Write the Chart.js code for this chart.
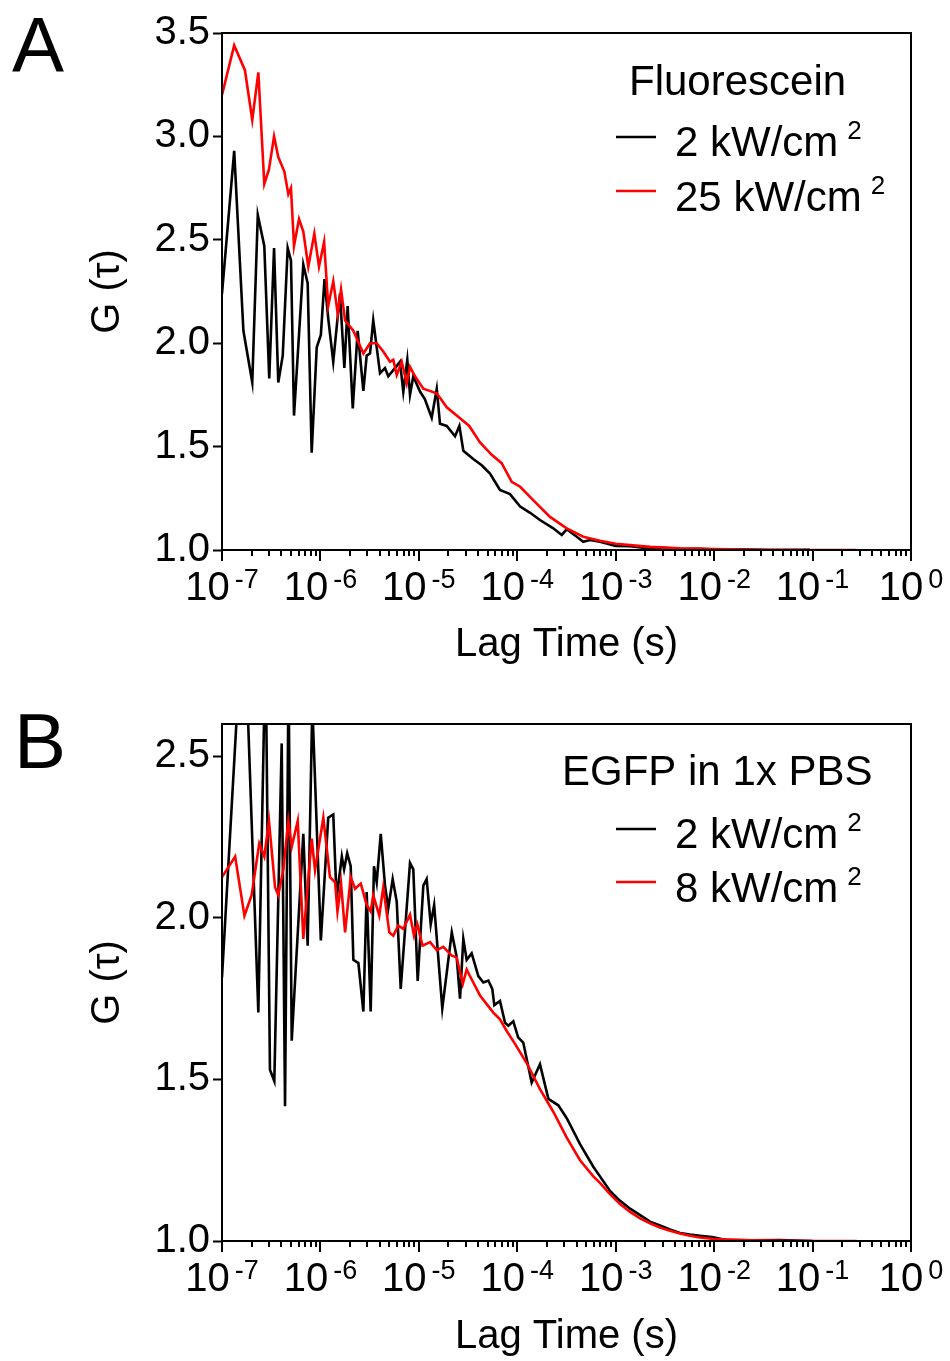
<!DOCTYPE html>
<html>
<head>
<meta charset="utf-8">
<script src="https://cdn.jsdelivr.net/npm/chart.js@4.4.1/dist/chart.umd.min.js"></script>
<style>
  html, body { margin: 0; padding: 0; background: #fff; }
  #wrap { position: relative; width: 950px; height: 1361px; overflow: hidden; }
  canvas { position: absolute; left: 0; }
  #cA { top: 0; }
  #cB { top: 680px; }
</style>
</head>
<body>
<div id="wrap">
  <canvas id="cA" width="950" height="680"></canvas>
  <canvas id="cB" width="950" height="681"></canvas>
</div>
<script>
// ---------------- DATA ----------------
// Panel A: Fluorescein, lag time (s) and G(tau)
const fluorLagLow = [1.0e-7, 1.33e-7, 1.65e-7, 2.03e-7, 2.31e-7, 2.69e-7, 3.02e-7, 3.38e-7, 3.73e-7, 4.14e-7,
  4.65e-7, 5.02e-7, 5.39e-7, 6.70e-7, 7.42e-7, 8.15e-7, 9.17e-7, 1.01e-6, 1.10e-6, 1.20e-6,
  1.35e-6, 1.58e-6, 1.75e-6, 1.89e-6, 2.13e-6, 2.39e-6, 2.73e-6, 2.95e-6, 3.19e-6, 3.44e-6,
  4.03e-6, 4.53e-6, 4.89e-6, 5.50e-6, 6.43e-6, 6.95e-6, 7.63e-6, 8.13e-6, 8.78e-6, 1.03e-5,
  1.15e-5, 1.35e-5, 1.52e-5, 1.64e-5, 1.92e-5, 2.33e-5, 2.58e-5, 2.83e-5, 3.57e-5, 4.35e-5,
  5.28e-5, 6.67e-5, 8.43e-5, 1.07e-4, 1.35e-4, 1.70e-4, 2.32e-4, 2.83e-4, 3.18e-4, 4.02e-4,
  4.68e-4, 5.48e-4, 6.92e-4, 1.0e-3, 1.40e-3, 1.99e-3, 2.82e-3, 4.50e-3, 7.18e-3, 1.0e-2,
  1.83e-2, 3.69e-2, 9.4e-2];
const fluorGLow = [2.24, 2.93, 2.06, 1.81, 2.62, 2.47, 1.83, 2.46, 1.81, 1.94,
  2.46, 2.40, 1.65, 2.38, 2.29, 1.47, 1.98, 2.04, 2.31, 2.12,
  1.91, 2.24, 1.88, 2.18, 1.685, 2.06, 1.77, 1.94, 1.95, 2.11,
  1.855, 1.88, 1.84, 1.87, 1.91, 1.765, 1.92, 1.75, 1.84, 1.765,
  1.73, 1.64, 1.78, 1.61, 1.60, 1.55, 1.60, 1.48, 1.44, 1.41,
  1.37, 1.29, 1.27, 1.21, 1.18, 1.145, 1.105, 1.073, 1.10, 1.064,
  1.04, 1.048, 1.04, 1.02, 1.018, 1.01, 1.012, 1.005, 1.006, 1.002,
  1.003, 1.0, 1.001];

const fluorLagHigh = [1.0e-7, 1.33e-7, 1.71e-7, 2.03e-7, 2.34e-7, 2.69e-7, 3.00e-7, 3.38e-7, 3.73e-7, 4.30e-7,
  4.72e-7, 5.02e-7, 5.39e-7, 6.06e-7, 6.70e-7, 7.53e-7, 8.67e-7, 9.67e-7, 1.09e-6, 1.20e-6,
  1.35e-6, 1.50e-6, 1.62e-6, 1.78e-6, 2.16e-6, 2.73e-6, 3.19e-6, 3.73e-6, 4.35e-6, 5.09e-6,
  5.50e-6, 5.96e-6, 6.70e-6, 7.53e-6, 8.13e-6, 9.14e-6, 1.11e-5, 1.52e-5, 1.92e-5, 2.62e-5,
  3.25e-5, 4.18e-5, 5.50e-5, 6.94e-5, 8.78e-5, 1.07e-4, 1.46e-4, 2.15e-4, 3.18e-4, 4.68e-4,
  6.92e-4, 1.0e-3, 2.23e-3, 4.50e-3, 1.0e-2, 2.92e-2, 9.4e-2, 0.28];
const fluorGHigh = [3.20, 3.44, 3.32, 3.08, 3.31, 2.77, 2.84, 3.00, 2.90, 2.83,
  2.72, 2.75, 2.47, 2.60, 2.54, 2.37, 2.53, 2.37, 2.49, 2.18,
  2.30, 2.14, 2.26, 2.11, 2.06, 1.95, 2.00, 2.00, 1.96, 1.91,
  1.92, 1.846, 1.91, 1.806, 1.886, 1.84, 1.78, 1.758, 1.69, 1.637,
  1.60, 1.52, 1.46, 1.42, 1.33, 1.306, 1.24, 1.16, 1.105, 1.064,
  1.045, 1.03, 1.015, 1.008, 1.004, 1.001, 1.0, 1.0];

// Panel B: EGFP in 1x PBS
const egfpLagLow = [1.0e-7, 1.66e-7, 2.34e-7, 2.77e-7, 3.07e-7, 3.40e-7, 4.04e-7, 4.37e-7, 4.74e-7, 5.11e-7,
  6.70e-7, 7.42e-7, 8.27e-7, 1.01e-6, 1.20e-6, 1.35e-6, 1.46e-6, 1.65e-6, 1.74e-6, 1.87e-6,
  2.03e-6, 2.16e-6, 2.43e-6, 2.73e-6, 2.95e-6, 3.24e-6, 3.50e-6, 3.73e-6, 4.10e-6, 4.53e-6,
  4.89e-6, 5.42e-6, 5.96e-6, 6.54e-6, 8.13e-6, 8.78e-6, 9.73e-6, 1.11e-5, 1.20e-5, 1.32e-5,
  1.43e-5, 1.73e-5, 2.16e-5, 2.42e-5, 2.62e-5, 2.83e-5, 3.06e-5, 3.44e-5, 4.02e-5, 4.52e-5,
  5.08e-5, 5.57e-5, 5.84e-5, 6.67e-5, 7.50e-5, 8.11e-5, 9.11e-5, 1.02e-4, 1.15e-4, 1.40e-4,
  1.70e-4, 2.07e-4, 2.61e-4, 3.18e-4, 4.34e-4, 5.92e-4, 6.92e-4, 8.75e-4, 1.10e-3, 1.40e-3,
  1.77e-3, 2.23e-3, 2.82e-3, 3.56e-3, 4.50e-3, 5.68e-3, 7.18e-3, 9.51e-3, 1.29e-2, 2.31e-2,
  4.67e-2, 0.1];
const egfpGLow = [1.816, 3.0, 1.707, 2.85, 1.53, 1.495, 2.54, 1.417, 2.75, 1.62,
  2.26, 1.914, 2.66, 1.93, 2.31, 2.32, 2.06, 2.19, 2.15, 2.20,
  2.16, 1.87, 1.86, 1.71, 2.08, 1.71, 2.16, 2.11, 2.26, 2.10,
  2.03, 2.12, 2.05, 1.78, 2.17, 2.15, 1.805, 2.10, 2.12, 1.98,
  2.04, 1.72, 1.955, 1.88, 1.75, 1.935, 1.87, 1.89, 1.82, 1.80,
  1.806, 1.78, 1.73, 1.743, 1.676, 1.666, 1.68, 1.63, 1.614, 1.49,
  1.547, 1.44, 1.42, 1.38, 1.30, 1.23, 1.20, 1.155, 1.125, 1.10,
  1.08, 1.06, 1.048, 1.036, 1.025, 1.02, 1.016, 1.012, 1.004, 1.002,
  1.003, 1.0];

const egfpLagHigh = [1.0e-7, 1.36e-7, 1.69e-7, 2.00e-7, 2.39e-7, 2.69e-7, 3.00e-7, 3.46e-7, 3.73e-7, 4.20e-7,
  4.72e-7, 5.11e-7, 5.88e-7, 6.70e-7, 8.15e-7, 8.81e-7, 1.07e-6, 1.25e-6, 1.41e-6, 1.49e-6,
  1.62e-6, 1.78e-6, 2.03e-6, 2.25e-6, 2.57e-6, 2.95e-6, 3.24e-6, 3.44e-6, 3.96e-6, 4.35e-6,
  5.01e-6, 5.50e-6, 6.18e-6, 6.95e-6, 8.13e-6, 8.93e-6, 9.64e-6, 1.09e-5, 1.30e-5, 1.52e-5,
  1.77e-5, 2.16e-5, 2.42e-5, 2.79e-5, 3.06e-5, 3.57e-5, 4.18e-5, 4.89e-5, 5.71e-5, 6.67e-5,
  7.81e-5, 9.48e-5, 1.25e-4, 1.70e-4, 2.32e-4, 3.18e-4, 4.34e-4, 5.92e-4, 6.92e-4, 8.75e-4,
  1.10e-3, 1.40e-3, 1.77e-3, 2.23e-3, 2.82e-3, 3.56e-3, 4.50e-3, 5.68e-3, 7.18e-3, 1.0e-2,
  1.83e-2, 4.67e-2, 0.119, 0.28];
const egfpGHigh = [2.126, 2.19, 2.007, 2.07, 2.23, 2.19, 2.30, 2.095, 2.07, 2.15,
  2.30, 2.22, 2.30, 1.935, 2.245, 2.147, 2.31, 2.126, 2.11, 2.02,
  2.106, 1.955, 2.126, 2.09, 2.106, 2.04, 2.02, 2.07, 2.007, 2.095,
  1.955, 1.945, 1.976, 1.966, 2.01, 1.945, 1.98, 1.914, 1.925, 1.90,
  1.91, 1.883, 1.878, 1.795, 1.84, 1.80, 1.76, 1.733, 1.707, 1.686,
  1.65, 1.61, 1.55, 1.47, 1.40, 1.32, 1.25, 1.20, 1.18, 1.145,
  1.115, 1.09, 1.07, 1.055, 1.042, 1.032, 1.023, 1.016, 1.011, 1.006,
  1.003, 1.001, 1.0, 1.0];

// Labels / ticks
const xTickExponents = [-7, -6, -5, -4, -3, -2, -1, 0];
const minorMultipliers = [2, 3, 4, 5, 6, 7, 8, 9];
const fluorLabels = ['2 kW/cm', '25 kW/cm'];
const egfpLabels = ['2 kW/cm', '8 kW/cm'];
const unitExponent = '2';
const fluorTitle = 'Fluorescein';
const egfpTitle = 'EGFP in 1x PBS';
const xTitle = 'Lag Time (s)';
const yTitle = 'G (\u03C4)';

// ---------------- RENDER ----------------
const FONT = '"Liberation Sans", Arial, Helvetica, sans-serif';
const BLACK = '#000000';
const RED = '#ff0000';
const LINE_W = 2.6;

function pts(xs, ys) { return xs.map((x, i) => ({ x: x, y: ys[i] })); }

const decorPlugin = {
  id: 'decor',
  afterDraw(chart, args, o) {
    const { ctx, chartArea: a } = chart;
    const xs = chart.scales.x;
    ctx.save();
    // frame
    ctx.strokeStyle = '#000'; ctx.lineWidth = 2;
    ctx.strokeRect(a.left, a.top, a.right - a.left, a.bottom - a.top);
    // log ticks on x
    ctx.beginPath();
    const last = xTickExponents[xTickExponents.length - 1];
    xTickExponents.forEach(e => {
      const base = Math.pow(10, e);
      const p = Math.round(xs.getPixelForValue(base));
      ctx.moveTo(p, a.bottom); ctx.lineTo(p, a.bottom + 11);
      if (e < last) minorMultipliers.forEach(k => {
        const q = Math.round(xs.getPixelForValue(k * base));
        ctx.moveTo(q, a.bottom); ctx.lineTo(q, a.bottom + 6);
      });
    });
    ctx.stroke();
    // tick labels 10^n
    ctx.fillStyle = '#000'; ctx.textAlign = 'left'; ctx.textBaseline = 'alphabetic';
    xTickExponents.forEach(e => {
      const p = xs.getPixelForValue(Math.pow(10, e));
      ctx.font = '40px ' + FONT; const w1 = ctx.measureText('10').width;
      const sup = String(e);
      ctx.font = '27px ' + FONT; const w2 = ctx.measureText(sup).width;
      const gap = 5;
      const start = p - (w1 + gap + w2) / 2;
      ctx.font = '40px ' + FONT; ctx.fillText('10', start, a.bottom + 50);
      ctx.font = '27px ' + FONT; ctx.fillText(sup, start + w1 + gap, a.bottom + 38);
    });
    // panel letter
    ctx.font = '78px ' + FONT;
    ctx.fillText(o.letter, o.letterX, o.letterY);
    // legend
    ctx.font = '42px ' + FONT;
    ctx.fillText(o.title, o.titleX, o.titleY);
    o.entries.forEach(en => {
      ctx.strokeStyle = en.color; ctx.lineWidth = 2.4;
      ctx.beginPath(); ctx.moveTo(o.lineX1, en.lineY); ctx.lineTo(o.lineX2, en.lineY); ctx.stroke();
      ctx.font = '42px ' + FONT;
      ctx.fillText(en.label, o.textX, en.y);
      const w = ctx.measureText(en.label).width;
      ctx.font = '26px ' + FONT;
      ctx.fillText(unitExponent, o.textX + w + 9, en.y - 17);
    });
    ctx.restore();
  }
};

function makeChart(id, cfg) {
  const yTicks = {
    stepSize: 0.5, includeBounds: false, color: '#000', padding: 3,
    font: { family: FONT, size: 40 },
    callback: v => Number(v).toFixed(1)
  };
  return new Chart(document.getElementById(id), {
    type: 'scatter',
    data: {
      datasets: [
        { label: cfg.labels[1] + '\u00B2', data: pts(cfg.lagHigh, cfg.gHigh), showLine: true, borderColor: RED,
          borderWidth: LINE_W, pointRadius: 0, tension: 0, order: 0, clip: 0 },
        { label: cfg.labels[0] + '\u00B2', data: pts(cfg.lagLow, cfg.gLow), showLine: true, borderColor: BLACK,
          borderWidth: LINE_W, pointRadius: 0, tension: 0, order: 1, clip: 0 }
      ]
    },
    options: {
      responsive: false, animation: false, devicePixelRatio: 1,
      layout: { padding: { left: 0, right: 39, top: cfg.padTop, bottom: 0 } },
      plugins: {
        legend: { display: false }, tooltip: { enabled: false },
        decor: cfg.decor
      },
      scales: {
        x: {
          type: 'logarithmic', min: 1e-7, max: 1,
          ticks: { display: false },
          grid: { display: false },
          border: { display: false },
          title: { display: true, text: xTitle, color: '#000', font: { family: FONT, size: 40 },
                   padding: { top: 0, bottom: cfg.xTitlePad } },
          afterFit: s => { s.height = cfg.xHeight; }
        },
        y: {
          type: 'linear', min: 1, max: cfg.yMax,
          ticks: yTicks,
          grid: { drawOnChartArea: false, drawTicks: true, tickLength: 9, tickColor: '#000', tickWidth: 2 },
          border: { display: false },
          title: { display: true, text: yTitle, color: '#000', font: { family: FONT, size: 40 },
                   padding: { top: 84, bottom: 0 } },
          afterFit: s => { s.width = 222; }
        }
      }
    },
    plugins: [decorPlugin]
  });
}

makeChart('cA', {
  lagLow: fluorLagLow, gLow: fluorGLow, lagHigh: fluorLagHigh, gHigh: fluorGHigh,
  labels: fluorLabels, yMax: 3.5, padTop: 33, xHeight: 130, xTitlePad: 11,
  decor: {
    letter: 'A', letterX: 12, letterY: 72,
    title: fluorTitle, titleX: 629, titleY: 95,
    lineX1: 616, lineX2: 656, textX: 675,
    entries: [
      { label: fluorLabels[0], color: BLACK, y: 156, lineY: 137 },
      { label: fluorLabels[1], color: RED, y: 211, lineY: 191 }
    ]
  }
});

makeChart('cB', {
  lagLow: egfpLagLow, gLow: egfpGLow, lagHigh: egfpLagHigh, gHigh: egfpGHigh,
  labels: egfpLabels, yMax: 2.6, padTop: 44, xHeight: 120, xTitlePad: 0,
  decor: {
    letter: 'B', letterX: 14, letterY: 88,
    title: egfpTitle, titleX: 562, titleY: 105,
    lineX1: 616, lineX2: 656, textX: 675,
    entries: [
      { label: egfpLabels[0], color: BLACK, y: 168, lineY: 149 },
      { label: egfpLabels[1], color: RED, y: 222, lineY: 202 }
    ]
  }
});
</script>
</body>
</html>
